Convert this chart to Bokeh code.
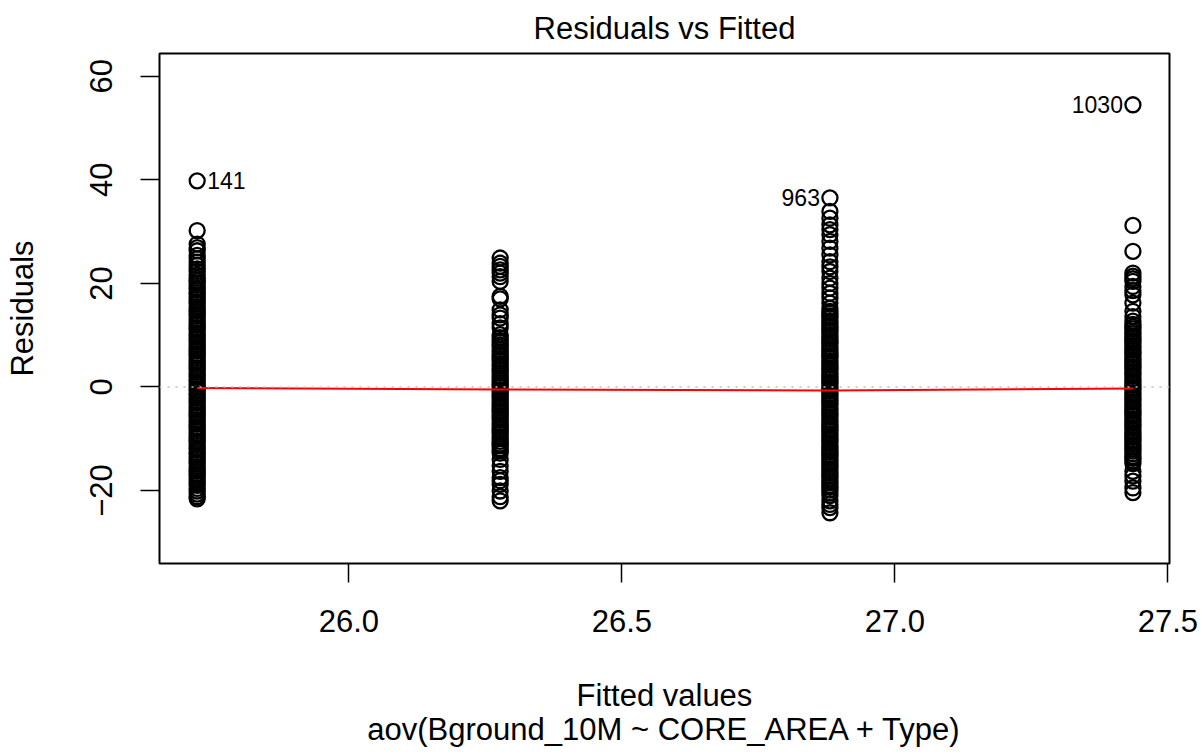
from bokeh.plotting import figure
from bokeh.models import Range1d, FixedTicker, Title, Span, CustomJSTickFormatter, ColumnDataSource
from bokeh.core.properties import value
from bokeh.embed import file_html
from bokeh.resources import INLINE

FONT = "Liberation Sans"

# ---- data ----
fitted_levels = [25.722, 26.277, 26.881, 27.436]

resid_g1 = [39.8, 30.2, 27.6, 26.9, 26.3, 25.4, 24.8, 24.1, 23.5, 22.8, 22.3, 21.6, 21.0,
            20.5, 20.1, 19.6, 19.1, 18.7, 18.2, 17.8, 17.3, 16.9, 16.4, 16.0, 15.5, 15.0, 14.6,
            14.1, 13.7, 13.2, 12.8, 12.3, 11.9, 11.4, 11.0, 10.5, 10.1, 9.6, 9.2, 8.7, 8.2, 7.8,
            7.3, 6.9, 6.4, 6.0, 5.5, 5.1, 4.6, 4.2, 3.7, 3.3, 2.8, 2.3, 1.9, 1.4, 1.0, 0.5, 0.1,
            -0.4, -0.8, -1.3, -1.7, -2.2, -2.7, -3.1, -3.6, -4.0, -4.5, -4.9, -5.4, -5.8, -6.3,
            -6.7, -7.2, -7.7, -8.1, -8.6, -9.0, -9.5, -9.9, -10.4, -10.8, -11.3, -11.8, -12.2,
            -12.7, -13.1, -13.6, -14.0, -14.5, -14.9, -15.4, -15.9, -16.3, -16.8, -17.2, -17.7,
            -18.1, -18.6, -19.0, -19.6, -20.1, -20.7, -21.2, -21.6]

resid_g2 = [24.9, 23.9, 23.3, 22.6, 22.0, 21.3, 20.4, 17.5, 17.0, 14.9, 13.9, 13.3, 12.2, 11.4,
            10.1, 9.5, 9.0, 8.6, 8.1, 7.7, 7.2, 6.8, 6.3, 5.9, 5.4, 5.0, 4.5, 4.1, 3.6, 3.2, 2.7,
            2.2, 1.8, 1.3, 0.9, 0.4, 0.0, -0.5, -0.9, -1.4, -1.8, -2.3, -2.8, -3.2, -3.7, -4.1,
            -4.6, -5.0, -5.5, -5.9, -6.4, -6.9, -7.3, -7.8, -8.2, -8.7, -9.1, -9.6, -10.0, -10.5,
            -11.0, -11.4, -11.9, -12.3, -12.8, -14.0, -15.2, -16.3, -17.5, -18.1, -18.8, -20.1,
            -21.2, -22.0]

resid_g3 = [36.5, 33.9, 32.6, 31.3, 30.4, 29.4, 28.1, 26.8, 25.5, 24.2, 23.2, 22.3, 21.0, 20.0,
            19.1, 18.1, 17.2, 16.2, 15.2, 14.6, 14.2, 13.7, 13.3, 12.8, 12.4, 11.9, 11.5, 11.0,
            10.6, 10.1, 9.7, 9.2, 8.7, 8.3, 7.8, 7.4, 6.9, 6.5, 6.0, 5.6, 5.1, 4.7, 4.2, 3.7,
            3.3, 2.8, 2.4, 1.9, 1.5, 1.0, 0.6, 0.1, -0.3, -0.8, -1.3, -1.7, -2.2, -2.6, -3.1,
            -3.5, -4.0, -4.4, -4.9, -5.3, -5.8, -6.3, -6.7, -7.2, -7.6, -8.1, -8.5, -9.0, -9.4,
            -9.9, -10.3, -10.8, -11.3, -11.7, -12.2, -12.6, -13.1, -13.5, -14.0, -14.4, -14.9,
            -15.3, -15.8, -16.3, -16.7, -17.2, -17.6, -18.1, -18.5, -19.0, -19.4, -19.9, -20.5,
            -21.0, -22.0, -22.7, -23.3, -24.3]

resid_g4 = [54.5, 31.2, 26.2, 22.0, 21.4, 20.9, 20.4, 19.4, 18.6, 17.8, 16.2, 14.6, 13.6, 12.7,
            12.1, 11.6, 11.2, 10.7, 10.3, 9.8, 9.4, 8.9, 8.5, 8.0, 7.6, 7.1, 6.6, 6.2, 5.7, 5.3,
            4.8, 4.4, 3.9, 3.5, 3.0, 2.6, 2.1, 1.6, 1.2, 0.7, 0.3, -0.2, -0.6, -1.1, -1.5, -2.0,
            -2.4, -2.9, -3.4, -3.8, -4.3, -4.7, -5.2, -5.6, -6.1, -6.5, -7.0, -7.4, -7.9, -8.4,
            -8.8, -9.3, -9.7, -10.2, -10.6, -11.1, -11.5, -12.0, -12.4, -12.9, -13.4, -13.8,
            -14.3, -14.8, -16.3, -17.2, -18.2, -19.5, -20.4]

smooth_y = [-0.2, -0.5, -0.7, -0.3]

right_label_ids = ["141"]
right_label_x = [25.722]
right_label_y = [39.8]
left_label_ids = ["963", "1030"]
left_label_x = [26.881, 27.436]
left_label_y = [36.5, 54.5]

x_ticks = [26.0, 26.5, 27.0, 27.5]
y_ticks = [-20, 0, 20, 40, 60]

title_text = "Residuals vs Fitted"
x_label = "Fitted values"
y_label = "Residuals"
sub_caption = "aov(Bground_10M ~ CORE_AREA + Type)"

FS = "31px"

# ---- build ----
groups = [resid_g1, resid_g2, resid_g3, resid_g4]
xs, ys = [], []
for lvl, g in zip(fitted_levels, groups):
    xs += [lvl] * len(g)
    ys += g
src = ColumnDataSource(dict(x=xs, y=ys))

p = figure(width=1202, height=755, output_backend="svg", toolbar_location=None,
           x_range=Range1d(25.653, 27.503), y_range=Range1d(-34.1, 64.4),
           min_border_left=159, min_border_right=33, min_border_top=52, min_border_bottom=192,
           background_fill_color="white", border_fill_color="white")
p.grid.visible = False
p.outline_line_color = "black"
p.outline_line_width = 2

p.title.text = title_text
p.title.align = "center"
p.title.text_font = FONT
p.title.text_font_size = FS
p.title.text_font_style = "normal"
p.title.text_color = "black"
p.title.standoff = 16

for ax in (p.xaxis[0], p.yaxis[0]):
    ax.axis_line_color = None
    ax.major_tick_line_color = "black"
    ax.major_tick_line_width = 1.5
    ax.major_tick_out = 19
    ax.major_tick_in = 0
    ax.minor_tick_line_color = None
    ax.major_label_text_font = FONT
    ax.major_label_text_font_size = FS
    ax.major_label_text_color = "black"
    ax.axis_label_text_font = FONT
    ax.axis_label_text_font_size = FS
    ax.axis_label_text_font_style = "normal"
    ax.axis_label_text_color = "black"

p.xaxis[0].ticker = FixedTicker(ticks=x_ticks)
p.xaxis[0].formatter = CustomJSTickFormatter(code="return tick.toFixed(1);")
p.xaxis[0].major_label_standoff = 27
p.xaxis[0].axis_label = x_label
p.xaxis[0].axis_label_standoff = 43

p.yaxis[0].ticker = FixedTicker(ticks=y_ticks)
p.yaxis[0].formatter = CustomJSTickFormatter(code="return tick < 0 ? '\\u2212' + Math.abs(tick) : String(tick);")
p.yaxis[0].major_label_orientation = "vertical"
p.yaxis[0].major_label_standoff = 28
p.yaxis[0].axis_label = y_label
p.yaxis[0].axis_label_standoff = 48

sub = Title(text=sub_caption, align="center", text_font=FONT, text_font_size=FS,
            text_font_style="normal", text_color="black", standoff=-11)
p.add_layout(sub, "below")

p.add_layout(Span(location=0, dimension="width", line_color="#BEBEBE",
                  line_dash="2 6", line_width=1.5))

p.scatter("x", "y", source=src, marker="circle", size=15, fill_color=None,
          line_color="black", line_width=2.3)

p.line(fitted_levels, smooth_y, line_color="red", line_width=2)

p.text(right_label_x, right_label_y, text=right_label_ids, x_offset=10,
       text_align="left", text_baseline="middle", text_font=value(FONT),
       text_font_size="23px", text_color="black")
p.text(left_label_x, left_label_y, text=left_label_ids, x_offset=-10,
       text_align="right", text_baseline="middle", text_font=value(FONT),
       text_font_size="23px", text_color="black")

open("out.html", "w").write(file_html(p, INLINE))
